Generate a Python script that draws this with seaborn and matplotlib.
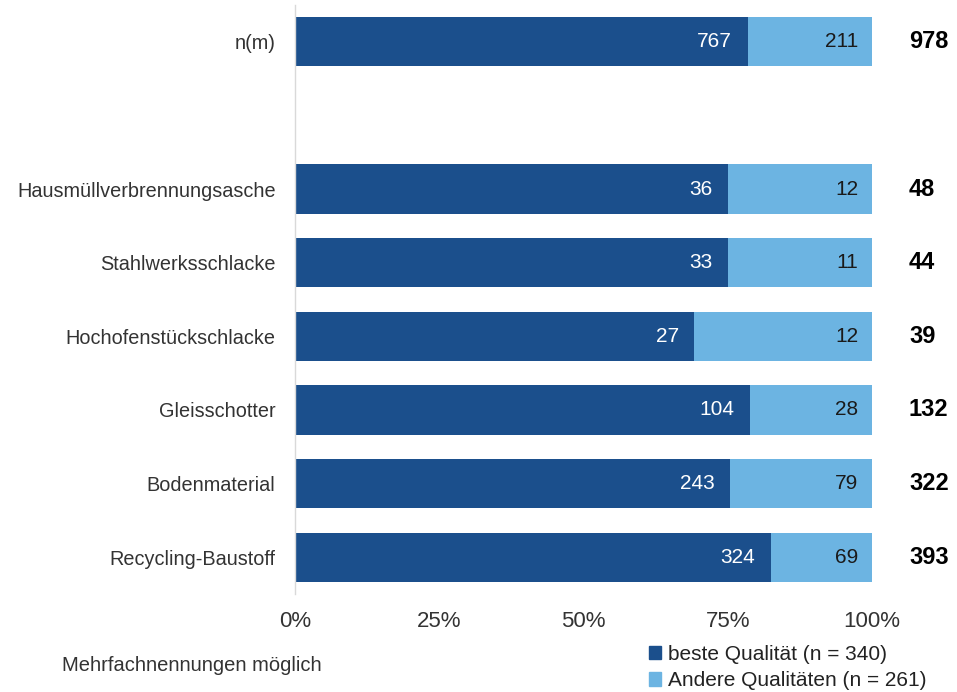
import matplotlib
matplotlib.use("Agg")
import matplotlib.pyplot as plt
import seaborn as sns
import pandas as pd
from matplotlib.patches import Patch
from matplotlib.ticker import PercentFormatter

categories = ["n(m)", "Hausmüllverbrennungsasche", "Stahlwerksschlacke",
              "Hochofenstückschlacke", "Gleisschotter", "Bodenmaterial",
              "Recycling-Baustoff"]
beste = [767, 36, 33, 27, 104, 243, 324]
andere = [211, 12, 11, 12, 28, 79, 69]
totals = [978, 48, 44, 39, 132, 322, 393]
xticks = [0, 0.25, 0.5, 0.75, 1.0]
legend_labels = ["beste Qualität (n = 340)", "Andere Qualitäten (n = 261)"]
note = "Mehrfachnennungen möglich"

dark = "#1B4F8C"
light = "#6CB4E2"

sns.set_theme(style="white")
plt.rcParams["font.family"] = ["Liberation Sans", "DejaVu Sans"]

order = [categories[0], " "] + categories[1:]
df = pd.DataFrame({
    "cat": categories,
    "beste": beste,
    "andere": andere,
})
df["total"] = df["beste"] + df["andere"]
df["p_beste"] = df["beste"] / df["total"]
df["p_full"] = 1.0

fig = plt.figure(figsize=(9.57, 6.92), dpi=100)
ax = fig.add_axes([0.3083, 0.1416, 0.6029, 0.8512])

sns.barplot(data=df, x="p_full", y="cat", order=order, color=light,
            width=0.67, orient="h", ax=ax, saturation=1, linewidth=0)
sns.barplot(data=df, x="p_beste", y="cat", order=order, color=dark,
            width=0.67, orient="h", ax=ax, saturation=1, linewidth=0)

pos = {c: order.index(c) for c in categories}
for i, c in enumerate(categories):
    y = pos[c]
    pb = df.loc[i, "p_beste"]
    ax.text(pb - 0.027, y, str(beste[i]), ha="right", va="center",
            color="white", fontsize=15)
    ax.text(1 - 0.024, y, str(andere[i]), ha="right", va="center",
            color="#1a1a1a", fontsize=15)
    ax.text(1.064, y, str(totals[i]), ha="left", va="center",
            color="black", fontsize=17, fontweight="bold")

ax.set_xlim(0, 1)
ax.set_ylim(7.5, -0.5)
ax.set_xticks(xticks)
ax.xaxis.set_major_formatter(PercentFormatter(1.0, decimals=0))
ax.set_xlabel("")
ax.set_ylabel("")
ax.tick_params(axis="x", labelsize=16, colors="#333333", pad=12, length=0)
ax.tick_params(axis="y", labelsize=14.3, colors="#333333", pad=14, length=0)
for s in ["top", "right", "bottom"]:
    ax.spines[s].set_visible(False)
ax.spines["left"].set_color("#D9D9D9")
ax.spines["left"].set_linewidth(1)

handles = [Patch(color=dark, label=legend_labels[0]),
           Patch(color=light, label=legend_labels[1])]
fig.legend(handles=handles, loc="upper left", bbox_to_anchor=(0.678, 0.068),
           frameon=False, fontsize=15, handlelength=0.6, handleheight=0.6,
           handletextpad=0.3, labelspacing=0.35, borderpad=0, borderaxespad=0,
           labelcolor="#222222")

fig.text(0.065, 0.038, note, ha="left", va="center", fontsize=14.5, color="#333333")

fig.savefig("out.png", dpi=100)
